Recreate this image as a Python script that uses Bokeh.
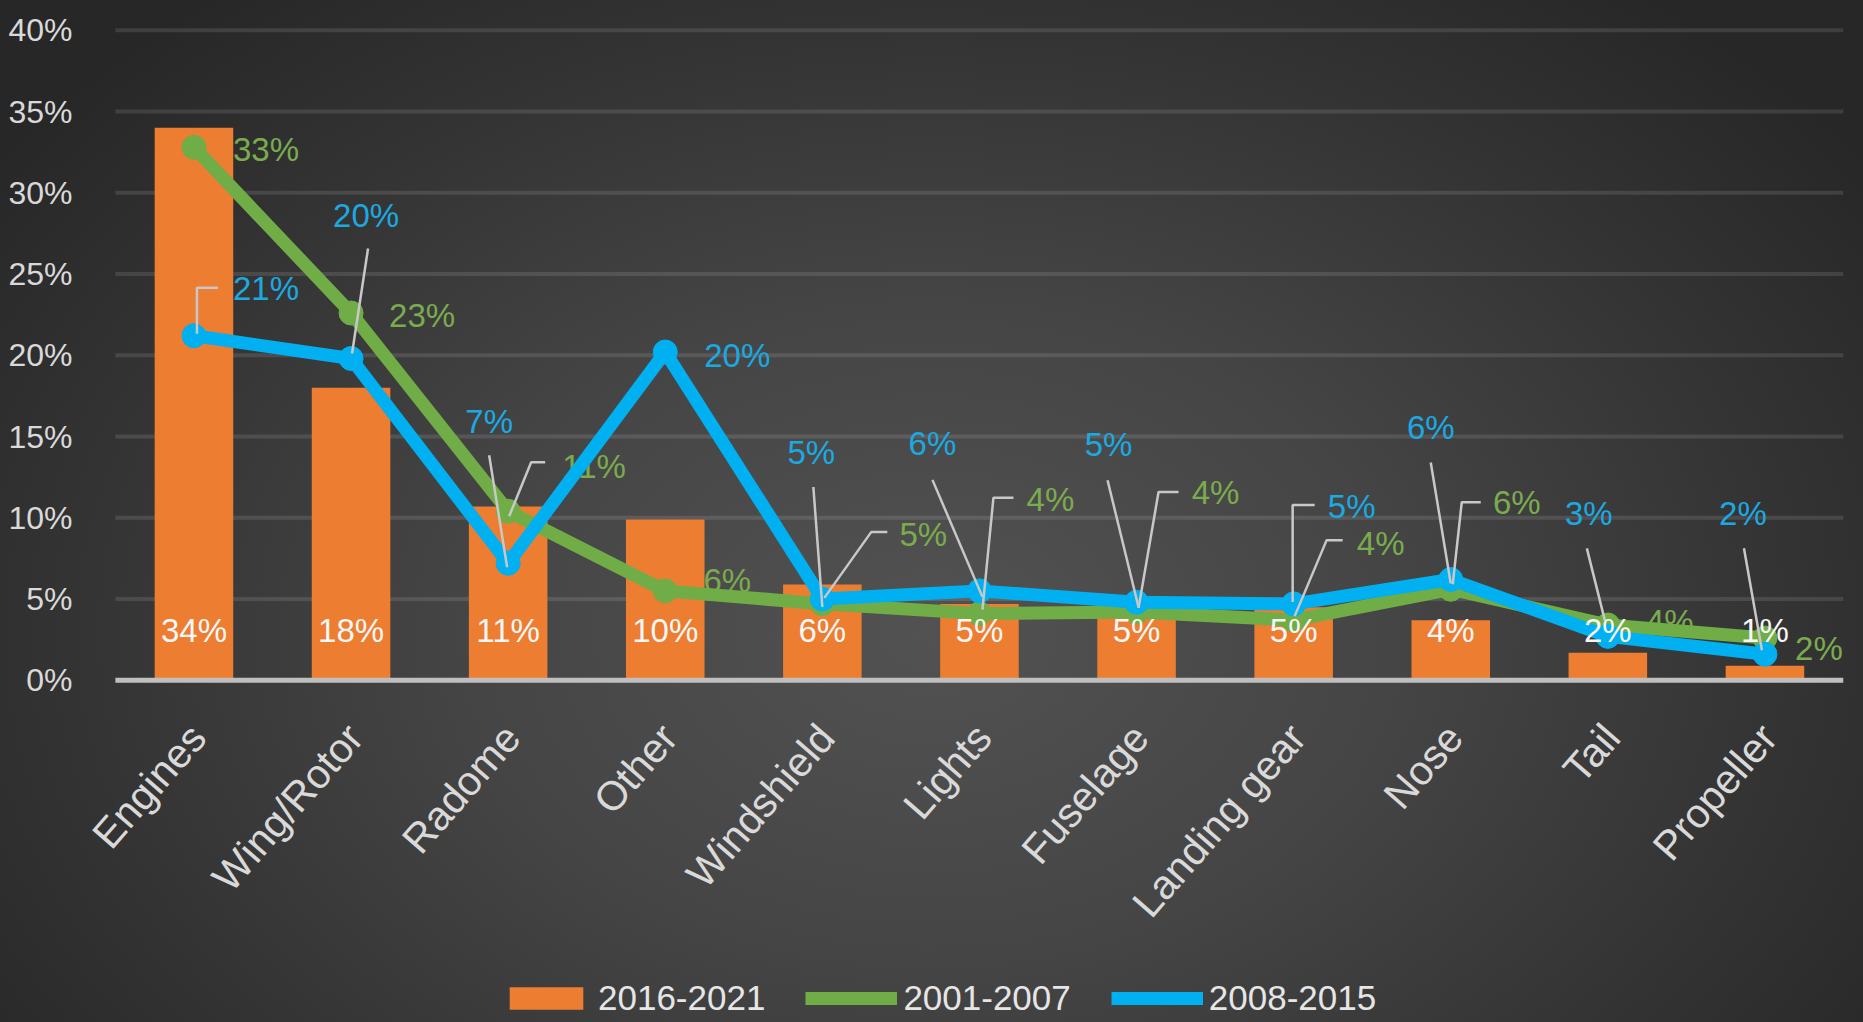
from bokeh.plotting import figure
from bokeh.models import Range1d, FixedTicker, PrintfTickFormatter, Legend, LegendItem, ColumnDataSource
from bokeh.core.properties import value
from bokeh.embed import file_html
from bokeh.resources import INLINE

# ---------------- data ----------------
categories = ["Engines", "Wing/Rotor", "Radome", "Other", "Windshield", "Lights",
              "Fuselage", "Landing gear", "Nose", "Tail", "Propeller"]
series_bar = "2016-2021"
series_green = "2001-2007"
series_blue = "2008-2015"
bars_2016_2021 = [34, 18, 10.7, 9.9, 5.9, 4.7, 4.5, 4.5, 3.7, 1.7, 0.9]
bar_labels = ["34%", "18%", "11%", "10%", "6%", "5%", "5%", "5%", "4%", "2%", "1%"]
line_2001_2007 = [32.8, 22.6, 10.4, 5.5, 4.7, 4.1, 4.2, 3.7, 5.6, 3.4, 2.6]
green_labels = ["33%", "23%", "11%", "6%", "5%", "4%", "4%", "4%", "6%", "4%", "2%"]
line_2008_2015 = [21.2, 19.8, 7.2, 20.2, 5.0, 5.5, 4.8, 4.7, 6.2, 2.7, 1.6]
blue_labels = ["21%", "20%", "7%", "20%", "5%", "6%", "5%", "5%", "6%", "3%", "2%"]
y_ticks = [0, 5, 10, 15, 20, 25, 30, 35, 40]

# label placement (pixel offsets from the data point, dy positive = down)
green_offsets = [(72, 2), (71, 2), (86, -45), (62, -10), (101, -69), (71, -114),
                 (79, -120), (87, -77), (66, -87), (62, -4), (54, 10)]
green_leaders = [None, None, [(1, 5), (23, -49), (37, -49)], None,
                 [(2, -6), (49, -72), (65, -72)], [(3, -4), (14, -116), (34, -116)],
                 [(2, -4), (22, -120), (42, -120)], [(1, -4), (33, -80), (49, -80)],
                 [(2, -5), (11, -87), (30, -87)], None, None]
blue_offsets = [(72, -47), (15, -143), (-19, -142), (72, 3), (-11, -147), (-47, -147),
                (-28, -158), (58, -97), (-20, -152), (-19, -123), (-22, -141)]
blue_leaders = [[(3, -2), (3, -48), (24, -48)], [(1, -5), (17, -110)], [(-1, 4), (-19, -108)], None,
                [(0, 8), (-9, -112)], [(3, 6), (-47, -111)], [(2, 5), (-29, -122)],
                [(-1, -2), (-1, -99), (21, -99)], [(0, 4), (-20, -117)], [(-3, -16), (-21, -88)],
                [(-3, -4), (-21, -106)]]
bar_label_lift = 50      # px above baseline
cat_label_drop = 50      # px below baseline (end of rotated category label)
cat_label_shift = 4      # px to the right of the bar centre
cat_label_angle = 0.855  # radians

# ---------------- geometry ----------------
W, H = 1863, 1022
BL, BR, BT, BB = 85, 20, 20, 0
PX_Y = 16.25                       # pixels per percentage point
PX_X = 157.1                       # pixels per category
X1, Y1 = 10.5, 40.6
X0 = X1 - (W - BL - BR) / PX_X     # frame extends left of the category span (room for labels)
Y0 = Y1 - (H - BT - BB) / PX_Y     # frame reaches the bottom so the legend is not clipped
CAT_LO, CAT_HI = -0.5, 10.5        # span of the category band (gridlines/baseline)

ORANGE = "#ED7D31"
GREEN = "#70AD47"
BLUE = "#00B0F0"
FONT = "Liberation Sans"

xs = list(range(len(categories)))

p = figure(width=W, height=H, x_range=Range1d(X0, X1), y_range=Range1d(Y0, Y1),
           output_backend="svg", toolbar_location=None,
           min_border_left=BL, min_border_right=BR, min_border_top=BT, min_border_bottom=BB)
p.styles = {"background": "radial-gradient(ellipse 62% 80% at 50% 62%, #525252 0%, #454545 40%, #333333 75%, #272727 100%)"}
p.border_fill_color = None
p.background_fill_color = None
p.outline_line_color = None

# axes
p.xaxis.visible = False

p.yaxis.ticker = FixedTicker(ticks=y_ticks)
p.yaxis.formatter = PrintfTickFormatter(format="%d%%")
p.yaxis.major_label_text_font = FONT
p.yaxis.major_label_text_font_size = "32px"
p.yaxis.major_label_text_color = "#d9d9d9"
p.yaxis.major_label_standoff = 7
p.yaxis.major_tick_line_color = None
p.yaxis.minor_tick_line_color = None
p.yaxis.axis_line_color = None

p.xgrid.grid_line_color = None
p.ygrid.grid_line_color = None

# horizontal gridlines over the category band
p.segment(x0=[CAT_LO] * len(y_ticks), x1=[CAT_HI] * len(y_ticks), y0=y_ticks, y1=y_ticks,
          line_color="#ffffff", line_alpha=0.11, line_width=4)

# category labels (rotated), ending just under each bar
p.text(x=[i + cat_label_shift / PX_X for i in xs], y=[-cat_label_drop / PX_Y] * len(xs), text=categories,
       angle=cat_label_angle, text_font=value(FONT), text_font_size=value("41px"),
       text_color="#d9d9d9", text_align="right", text_baseline="middle")

# bars
bar_r = p.vbar(x=xs, top=bars_2016_2021, width=0.5, color=ORANGE, line_color=None)

# baseline (category axis line)
p.segment(x0=[CAT_LO], x1=[CAT_HI], y0=[0], y1=[0], line_color="#bfbfbf", line_width=5)


def place(i, v, off):
    return i + off[0] / PX_X, v - off[1] / PX_Y


def label_source(vals, labels, offsets):
    lx, ly = [], []
    for i, (v, o) in enumerate(zip(vals, offsets)):
        a, b = place(i, v, o)
        lx.append(a)
        ly.append(b)
    return ColumnDataSource(dict(x=lx, y=ly, text=labels))


def leader_paths(vals, leaders):
    mx, my = [], []
    for i, (v, path) in enumerate(zip(vals, leaders)):
        if path is None:
            continue
        px, py = [], []
        for o in path:
            a, b = place(i, v, o)
            px.append(a)
            py.append(b)
        mx.append(px)
        my.append(py)
    return mx, my


# series labels (beneath the lines)
p.text(x="x", y="y", text="text", source=label_source(line_2001_2007, green_labels, green_offsets),
       text_font=value(FONT), text_font_size=value("33px"), text_color="#7aab4e",
       text_align="center", text_baseline="middle")
p.text(x="x", y="y", text="text", source=label_source(line_2008_2015, blue_labels, blue_offsets),
       text_font=value(FONT), text_font_size=value("33px"), text_color="#1ba9e1",
       text_align="center", text_baseline="middle")

# lines
g_line = p.line(xs, line_2001_2007, line_width=13, color=GREEN, line_join="round")
g_pts = p.scatter(xs, line_2001_2007, size=24, marker="circle", color=GREEN)
b_line = p.line(xs, line_2008_2015, line_width=13, color=BLUE, line_join="round")
b_pts = p.scatter(xs, line_2008_2015, size=24, marker="circle", color=BLUE)

# leader lines
for vals, leaders in ((line_2001_2007, green_leaders), (line_2008_2015, blue_leaders)):
    mx, my = leader_paths(vals, leaders)
    p.multi_line(mx, my, line_color="#c8c8c8", line_width=2.5)

# bar value labels
p.text(x=xs, y=[bar_label_lift / PX_Y] * len(xs), text=bar_labels,
       text_font=value(FONT), text_font_size=value("33px"), text_color="#f7f7f7",
       text_align="center", text_baseline="middle")

legend = Legend(items=[LegendItem(label=series_bar, renderers=[bar_r]),
                       LegendItem(label=series_green, renderers=[g_line, g_pts]),
                       LegendItem(label=series_blue, renderers=[b_line, b_pts])],
                location=(415, 4), orientation="horizontal",
                glyph_width=92, glyph_height=28, label_standoff=6, spacing=40,
                padding=0, margin=0,
                label_text_font=FONT, label_text_font_size="35px", label_text_color="#e6e6e6",
                background_fill_alpha=0, border_line_alpha=0)
p.add_layout(legend)

open("out.html", "w").write(file_html(p, INLINE))
